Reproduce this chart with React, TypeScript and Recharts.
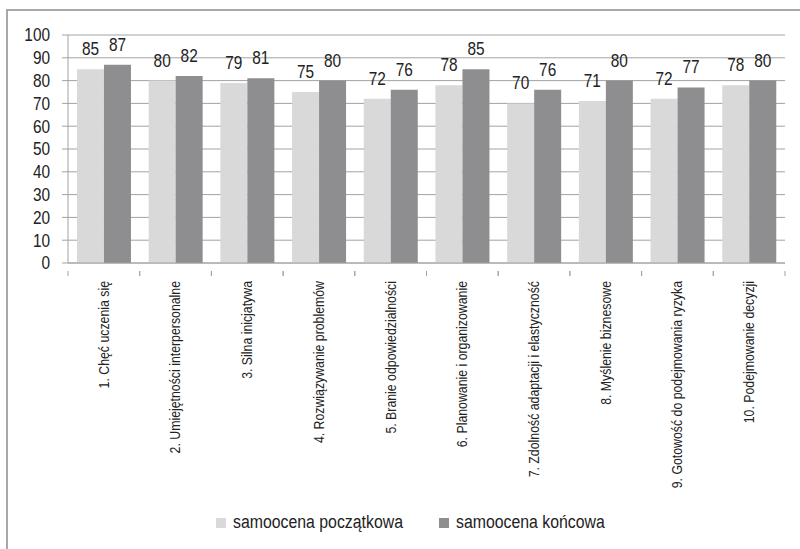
import React from 'react';
import { BarChart, Bar, XAxis, YAxis, CartesianGrid, LabelList, Legend } from 'recharts';

const categories = [
  '1. Chęć uczenia się',
  '2. Umiejętności interpersonalne',
  '3. Silna inicjatywa',
  '4. Rozwiązywanie problemów',
  '5. Branie odpowiedzialności',
  '6. Planowanie i organizowanie',
  '7. Zdolność adaptacji i elastyczność',
  '8. Myślenie biznesowe',
  '9. Gotowość do podejmowania ryzyka',
  '10. Podejmowanie decyzji',
];
const initialScores = [85, 80, 79, 75, 72, 78, 70, 71, 72, 78];
const finalScores = [87, 82, 81, 80, 76, 85, 76, 80, 77, 80];
const yTicks = [0, 10, 20, 30, 40, 50, 60, 70, 80, 90, 100];
const seriesNames = ['samoocena początkowa', 'samoocena końcowa'];

const data = categories.map((c, i) => ({ name: c, a: initialScores[i], b: finalScores[i] }));

const FONT = "'Liberation Sans', Arial, sans-serif";
const SQ = 0.88;
const LIGHT = '#d9d9d9';
const DARK = '#8e8e90';
const GRID = '#a3a3a3';
const TEXT = '#222222';
const BAND = 717 / categories.length;

const XTick = (props: any) => {
  const { x, y, payload } = props;
  return (
    <g>
      <line x1={x - BAND / 2} y1={y} x2={x - BAND / 2} y2={y + 5} stroke={GRID} />
      <line x1={x + BAND / 2} y1={y} x2={x + BAND / 2} y2={y + 5} stroke={GRID} />
      <g transform={`translate(${x}, ${y + 10}) rotate(-90)`}>
        <text transform={`scale(${SQ}, 1)`} x={0} y={0} textAnchor="end" dy="0.35em" fontSize={14} fontFamily={FONT} fill={TEXT}>
          {payload.value}
        </text>
      </g>
    </g>
  );
};

const YTick = (props: any) => {
  const { x, y, payload } = props;
  return (
    <g transform={`translate(${x}, ${y})`}>
      <text transform={`scale(${SQ}, 1)`} x={0} y={0} textAnchor="end" dy="0.36em" fontSize={17.5} fontFamily={FONT} fill={TEXT}>
        {payload.value}
      </text>
    </g>
  );
};

const ValueLabel = (props: any) => {
  const { x, y, width, value } = props;
  const cx = Number(x) + Number(width) / 2;
  return (
    <g transform={`translate(${cx}, ${Number(y) - 14})`}>
      <text transform={`scale(${SQ}, 1)`} x={0} y={0} textAnchor="middle" fontSize={17.5} fontFamily={FONT} fill={TEXT}>
        {value}
      </text>
    </g>
  );
};

const legendPos = [216, 439];

const LegendContent = () => (
  <div style={{ position: 'relative', height: 30, fontFamily: FONT, fontSize: 18, color: TEXT }}>
    {seriesNames.map((n, i) => (
      <React.Fragment key={n}>
        <div style={{ position: 'absolute', left: legendPos[i], top: 11, width: 10, height: 10, background: i === 0 ? LIGHT : DARK }} />
        <span
          style={{
            position: 'absolute',
            left: legendPos[i] + 17,
            top: 0,
            lineHeight: '30px',
            whiteSpace: 'nowrap',
            transform: `scaleX(${SQ})`,
            transformOrigin: 'left center',
          }}
        >
          {n}
        </span>
      </React.Fragment>
    ))}
  </div>
);

export default function App() {
  return (
    <div style={{ position: 'absolute', left: 0, top: 0, width: 800, height: 549, overflow: 'hidden', background: '#fff' }}>
      <div style={{ position: 'absolute', left: 6, top: 9, width: 820, height: 600, border: '2px solid #a8a8a8' }} />
      <div style={{ position: 'absolute', left: 0, top: 0 }}>
        <BarChart
          width={800}
          height={549}
          data={data}
          margin={{ top: 35, right: 15, left: 0, bottom: 12 }}
          barCategoryGap="12.5%"
          barGap={0}
        >
          <CartesianGrid vertical={false} stroke={GRID} />
          <YAxis
            width={68}
            domain={[0, 100]}
            ticks={yTicks}
            interval={0}
            tickLine={{ stroke: GRID }}
            axisLine={{ stroke: GRID }}
            tickSize={6}
            tickMargin={12}
            tick={<YTick />}
          />
          <XAxis
            dataKey="name"
            interval={0}
            height={244}
            tickLine={false}
            axisLine={{ stroke: GRID }}
            tick={<XTick />}
          />
          <Legend verticalAlign="bottom" height={30} content={<LegendContent />} />
          <Bar dataKey="a" name={seriesNames[0]} fill={LIGHT} isAnimationActive={false}>
            <LabelList dataKey="a" content={<ValueLabel />} />
          </Bar>
          <Bar dataKey="b" name={seriesNames[1]} fill={DARK} isAnimationActive={false}>
            <LabelList dataKey="b" content={<ValueLabel />} />
          </Bar>
        </BarChart>
      </div>
    </div>
  );
}
